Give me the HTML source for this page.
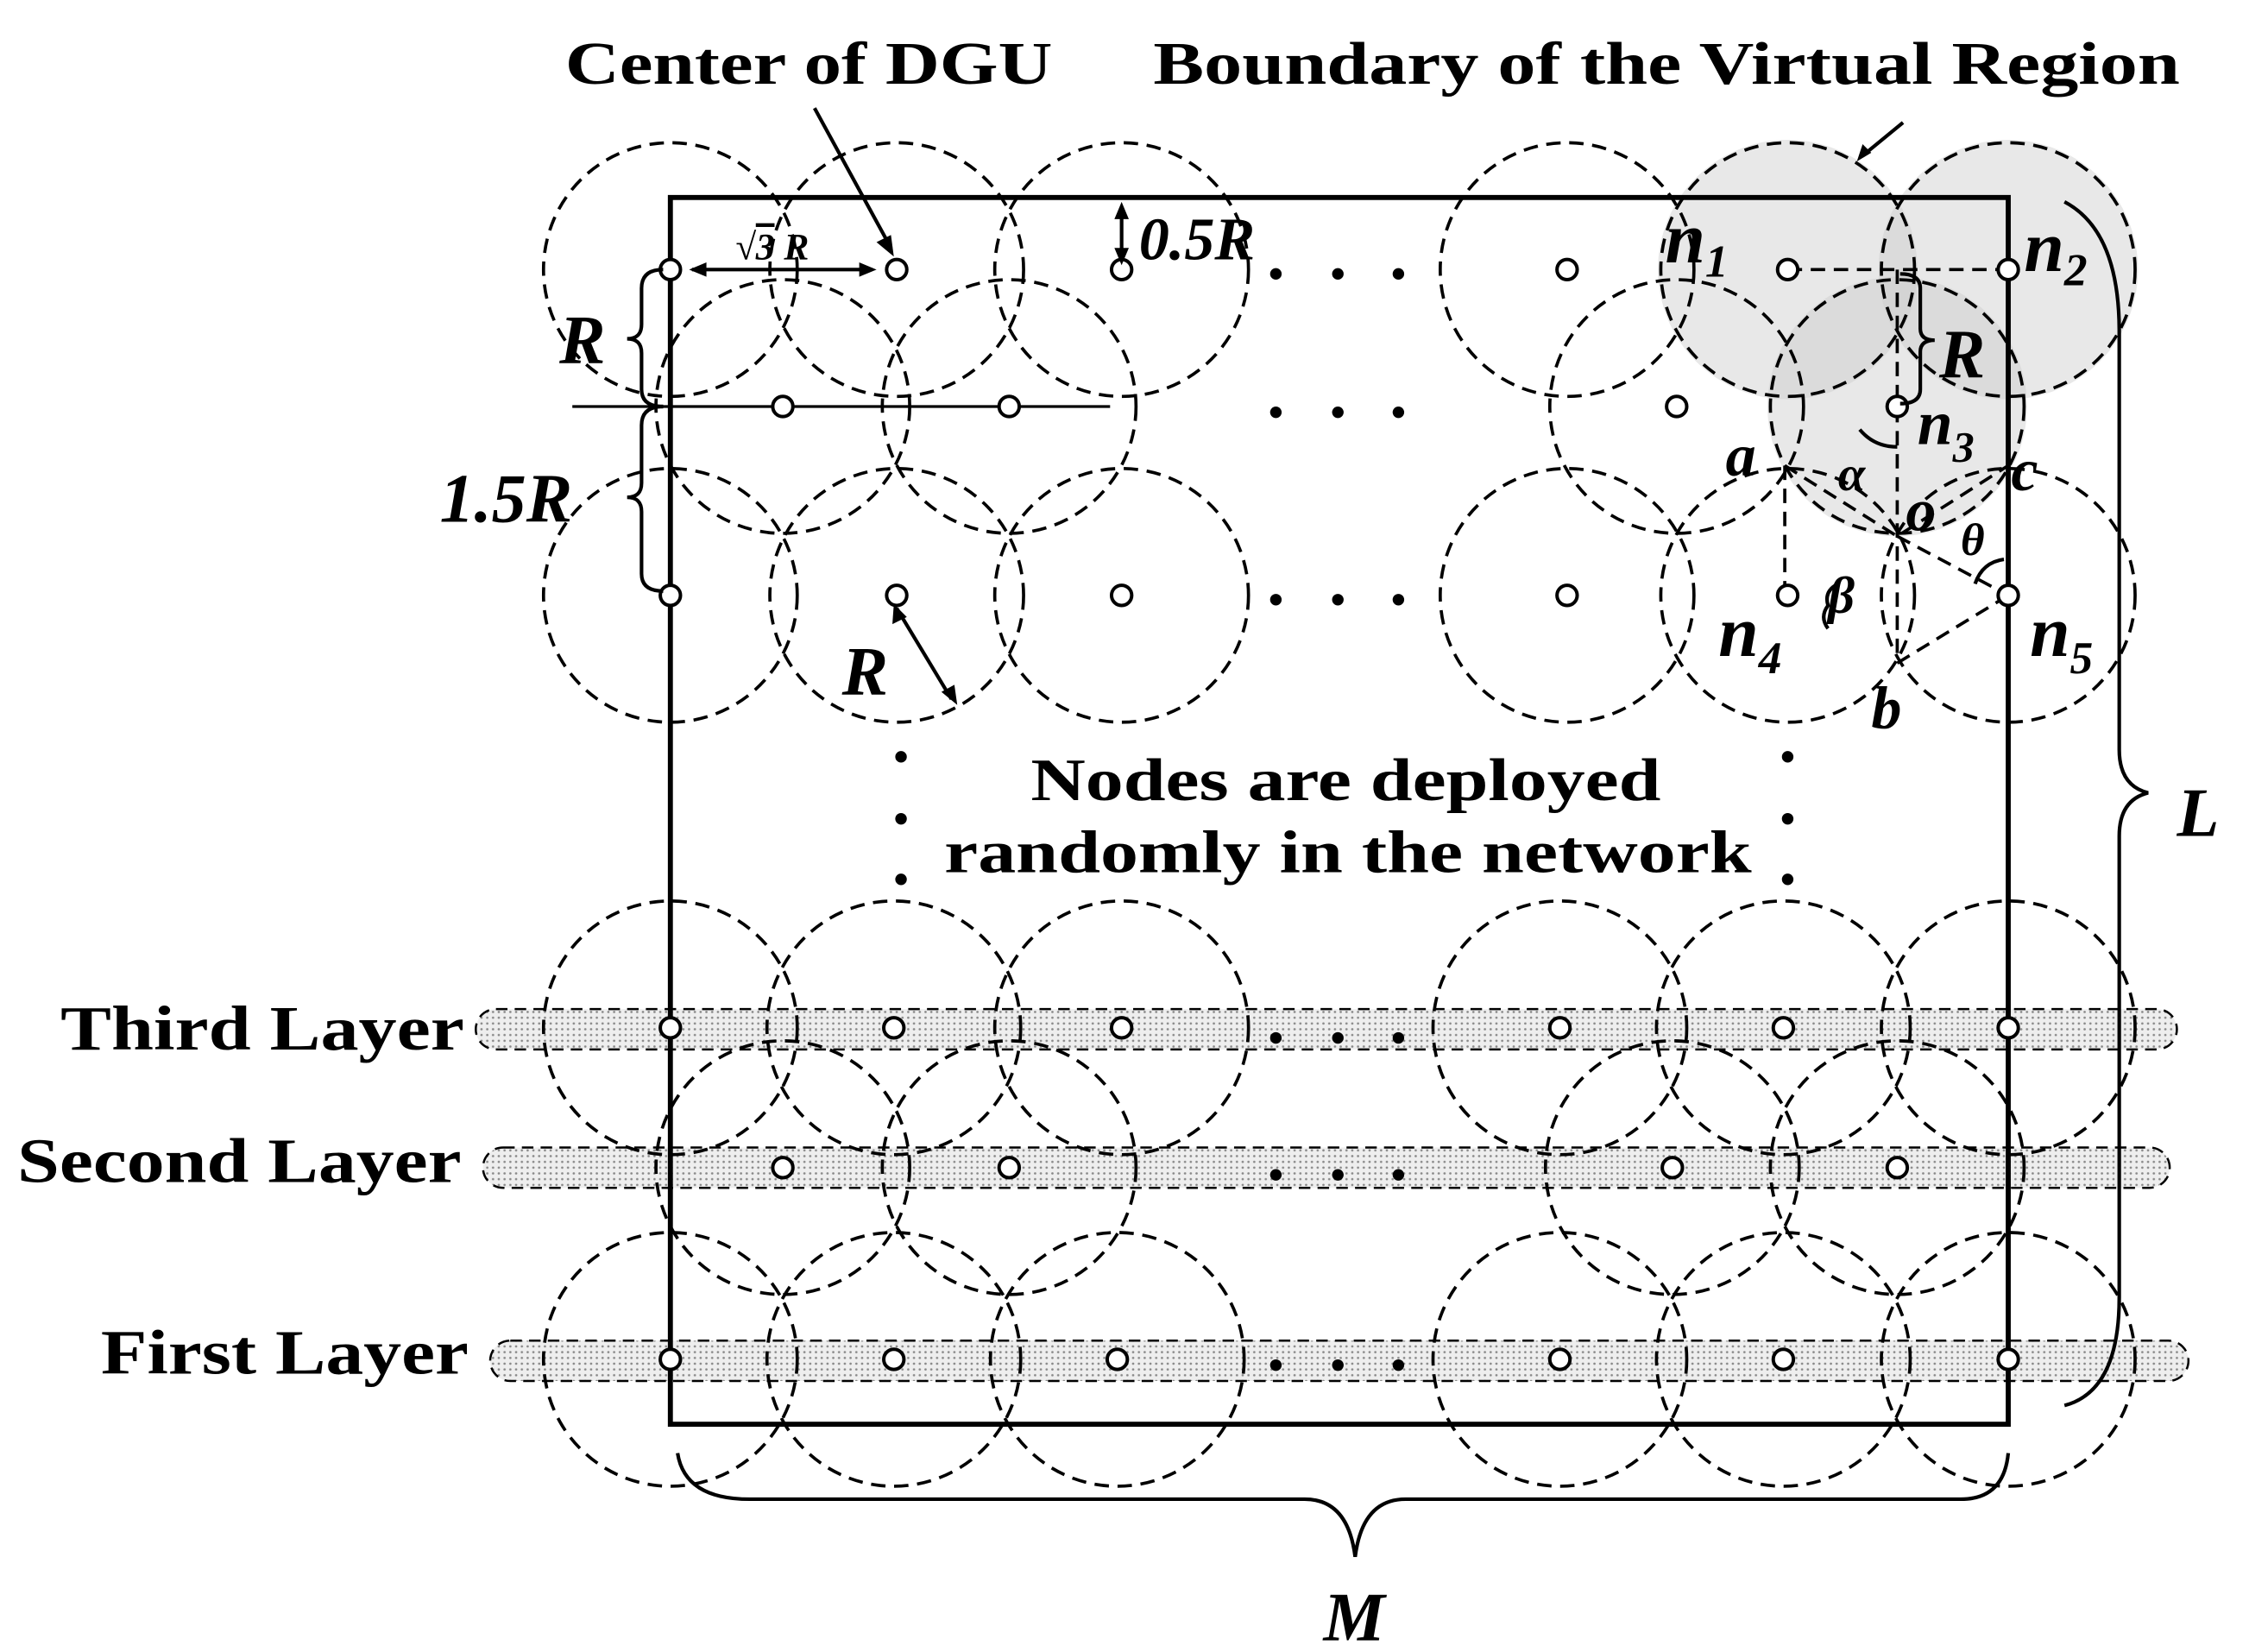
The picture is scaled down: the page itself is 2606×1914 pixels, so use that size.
<!DOCTYPE html>
<html><head><meta charset="utf-8"><style>
html,body{margin:0;padding:0;background:#fff}
svg{display:block}
text{font-family:"Liberation Serif",serif;font-weight:bold;fill:#000}
</style></head><body>
<svg width="2606" height="1914" viewBox="0 0 1560 1146" preserveAspectRatio="none" xmlns="http://www.w3.org/2000/svg">
<defs>
<pattern id="dots" width="4" height="4" patternUnits="userSpaceOnUse"><rect width="4" height="4" fill="#eee"/><circle cx="2" cy="2" r="0.8" fill="#888"/></pattern>
</defs>
<g fill="#ccc" fill-opacity="0.45">
<circle cx="1240" cy="187" r="90"/><circle cx="1393" cy="187" r="90"/><circle cx="1316" cy="282" r="90"/>
</g>
<g fill="url(#dots)" stroke="#000" stroke-width="1.5" stroke-dasharray="8,5">
<rect x="330" y="700" width="1180" height="28" rx="14"/>
<rect x="335" y="796" width="1170" height="28" rx="14"/>
<rect x="340" y="930" width="1178" height="28" rx="14"/>
</g>
<g fill="none" stroke="#000" stroke-width="2.2" stroke-dasharray="10,6">
<circle cx="465" cy="187" r="88"/><circle cx="622" cy="187" r="88"/><circle cx="778" cy="187" r="88"/><circle cx="1087" cy="187" r="88"/><circle cx="1240" cy="187" r="88"/><circle cx="1393" cy="187" r="88"/>
<circle cx="543" cy="282" r="88"/><circle cx="700" cy="282" r="88"/><circle cx="1163" cy="282" r="88"/><circle cx="1316" cy="282" r="88"/>
<circle cx="465" cy="413" r="88"/><circle cx="622" cy="413" r="88"/><circle cx="778" cy="413" r="88"/><circle cx="1087" cy="413" r="88"/><circle cx="1240" cy="413" r="88"/><circle cx="1393" cy="413" r="88"/>
<circle cx="465" cy="713" r="88"/><circle cx="620" cy="713" r="88"/><circle cx="778" cy="713" r="88"/><circle cx="1082" cy="713" r="88"/><circle cx="1237" cy="713" r="88"/><circle cx="1393" cy="713" r="88"/>
<circle cx="543" cy="810" r="88"/><circle cx="700" cy="810" r="88"/><circle cx="1160" cy="810" r="88"/><circle cx="1316" cy="810" r="88"/>
<circle cx="465" cy="943" r="88"/><circle cx="620" cy="943" r="88"/><circle cx="775" cy="943" r="88"/><circle cx="1082" cy="943" r="88"/><circle cx="1237" cy="943" r="88"/><circle cx="1393" cy="943" r="88"/>
<path d="M1240 187H1393 M1316 187V460 M1238 323L1316 372L1393 323 M1238 323V413 M1316 372L1393 413 M1316 460L1393 413"/>
</g>
<rect x="465" y="137" width="928" height="851" fill="none" stroke="#000" stroke-width="3.5"/>
<line x1="397" y1="282" x2="770" y2="282" stroke="#000" stroke-width="2"/>
<g fill="#fff" stroke="#000" stroke-width="2.4">
<circle cx="465" cy="187" r="7"/><circle cx="622" cy="187" r="7"/><circle cx="778" cy="187" r="7"/><circle cx="1087" cy="187" r="7"/><circle cx="1240" cy="187" r="7"/><circle cx="1393" cy="187" r="7"/>
<circle cx="543" cy="282" r="7"/><circle cx="700" cy="282" r="7"/><circle cx="1163" cy="282" r="7"/><circle cx="1316" cy="282" r="7"/>
<circle cx="465" cy="413" r="7"/><circle cx="622" cy="413" r="7"/><circle cx="778" cy="413" r="7"/><circle cx="1087" cy="413" r="7"/><circle cx="1240" cy="413" r="7"/><circle cx="1393" cy="413" r="7"/>
<circle cx="465" cy="713" r="7"/><circle cx="620" cy="713" r="7"/><circle cx="778" cy="713" r="7"/><circle cx="1082" cy="713" r="7"/><circle cx="1237" cy="713" r="7"/><circle cx="1393" cy="713" r="7"/>
<circle cx="543" cy="810" r="7"/><circle cx="700" cy="810" r="7"/><circle cx="1160" cy="810" r="7"/><circle cx="1316" cy="810" r="7"/>
<circle cx="465" cy="943" r="7"/><circle cx="620" cy="943" r="7"/><circle cx="775" cy="943" r="7"/><circle cx="1082" cy="943" r="7"/><circle cx="1237" cy="943" r="7"/><circle cx="1393" cy="943" r="7"/>
</g>
<g fill="#000">
<circle cx="885" cy="190" r="4"/><circle cx="928" cy="190" r="4"/><circle cx="970" cy="190" r="4"/>
<circle cx="885" cy="286" r="4"/><circle cx="928" cy="286" r="4"/><circle cx="970" cy="286" r="4"/>
<circle cx="885" cy="416" r="4"/><circle cx="928" cy="416" r="4"/><circle cx="970" cy="416" r="4"/>
<circle cx="885" cy="720" r="4"/><circle cx="928" cy="720" r="4"/><circle cx="970" cy="720" r="4"/>
<circle cx="885" cy="815" r="4"/><circle cx="928" cy="815" r="4"/><circle cx="970" cy="815" r="4"/>
<circle cx="885" cy="947" r="4"/><circle cx="928" cy="947" r="4"/><circle cx="970" cy="947" r="4"/>
<circle cx="625" cy="525" r="4"/><circle cx="625" cy="568" r="4"/><circle cx="625" cy="610" r="4"/>
<circle cx="1240" cy="525" r="4"/><circle cx="1240" cy="568" r="4"/><circle cx="1240" cy="610" r="4"/>
</g>
<g fill="none" stroke="#000" stroke-width="2.5">
<path d="M1432 140 Q1470 160 1470 230 V520 Q1470 545 1490 550 Q1470 555 1470 580 V900 Q1470 965 1432 975"/>
<path d="M470 1008 Q475 1040 520 1040 H905 Q935 1040 940 1080 Q945 1040 975 1040 H1360 Q1390 1040 1393 1008"/>
<path d="M460 187 Q445 187 445 200 V225 Q445 235 435 235 Q445 235 445 245 V270 Q445 282 460 282"/>
<path d="M460 282 Q445 282 445 295 V335 Q445 345 435 345 Q445 345 445 355 V398 Q445 410 460 410"/>
<path d="M1318 190 Q1332 190 1332 200 V228 Q1332 236 1342 236 Q1332 236 1332 244 V270 Q1332 280 1318 280"/>
<path d="M480 187 H605 M778 145 V180 M622 422 L660 485 M565 75 L618 172 M1320 85 L1292 108"/>
<path d="M1290 298 Q1300 310 1316 310 M1390 388 Q1375 390 1370 405 M1275 405 Q1265 410 1268 420 Q1262 428 1268 436"/>
</g>
<g fill="#000">
<polygon points="478,187 490,182 490,192"/><polygon points="608,187 596,182 596,192"/>
<polygon points="778,140 773,152 783,152"/><polygon points="778,184 773,172 783,172"/>
<polygon points="620,419 619,433 629,428"/><polygon points="664,489 653,480 662,475"/>
<polygon points="620,178 608,168 618,163"/><polygon points="1288,112 1292,100 1298,106"/>
</g>
<text x="392" y="58" font-size="42" textLength="338" lengthAdjust="spacingAndGlyphs">Center of DGU</text>
<text x="800" y="58" font-size="42" textLength="712" lengthAdjust="spacingAndGlyphs">Boundary of the Virtual Region</text>
<text x="42" y="728" font-size="44" textLength="280" lengthAdjust="spacingAndGlyphs">Third Layer</text>
<text x="12" y="820" font-size="44" textLength="308" lengthAdjust="spacingAndGlyphs">Second Layer</text>
<text x="70" y="953" font-size="44" textLength="255" lengthAdjust="spacingAndGlyphs">First Layer</text>
<text x="715" y="555" font-size="42" textLength="437" lengthAdjust="spacingAndGlyphs">Nodes are deployed</text>
<text x="655" y="605" font-size="42" textLength="560" lengthAdjust="spacingAndGlyphs">randomly in the network</text>
<g font-style="italic">
<text x="1510" y="580" font-size="48">L</text>
<text x="918" y="1138" font-size="48">M</text>
<text x="388" y="252" font-size="48">R</text>
<text x="305" y="362" font-size="48">1.5R</text>
<text x="584" y="482" font-size="48">R</text>
<text x="1345" y="262" font-size="48">R</text>
<text x="790" y="180" font-size="42">0.5R</text>
<text x="1155" y="182" font-size="50">n<tspan font-size="32" dy="10">1</tspan></text>
<text x="1404" y="188" font-size="50">n<tspan font-size="32" dy="10">2</tspan></text>
<text x="1330" y="308" font-size="44">n<tspan font-size="30" dy="12">3</tspan></text>
<text x="1192" y="455" font-size="50">n<tspan font-size="32" dy="12">4</tspan></text>
<text x="1408" y="455" font-size="50">n<tspan font-size="32" dy="12">5</tspan></text>
<text x="1197" y="330" font-size="42">a</text>
<text x="1395" y="340" font-size="42">c</text>
<text x="1322" y="368" font-size="42">o</text>
<text x="1298" y="505" font-size="42">b</text>
<text x="1275" y="340" font-size="34" font-weight="normal">α</text>
<text x="1360" y="385" font-size="32" font-weight="normal">θ</text>
<text x="1268" y="425" font-size="36" font-weight="normal">β</text>
<text x="510" y="180" font-size="26">√<tspan text-decoration="overline">3</tspan> R</text>
</g>
</svg>
</body></html>
